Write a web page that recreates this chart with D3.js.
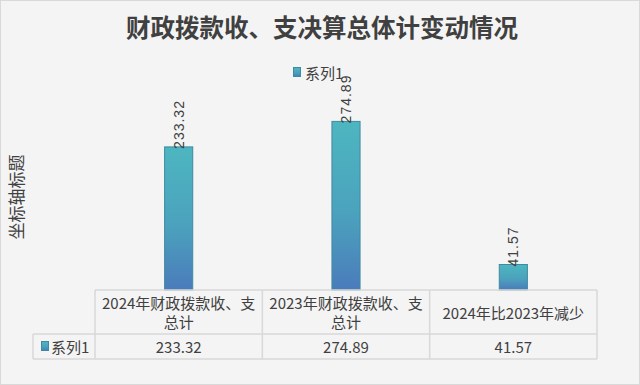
<!DOCTYPE html>
<html><head><meta charset="utf-8">
<script src="https://cdn.jsdelivr.net/npm/d3@7/dist/d3.min.js"></script>
<style>
html,body{margin:0;padding:0;background:#fff;}
svg{display:block;}
text{font-family:"Noto Sans CJK SC","Microsoft YaHei",sans-serif;fill:#404040;}
</style></head>
<body>
<svg id="chart" width="640" height="385"></svg>
<script>
const title = "财政拨款收、支决算总体计变动情况";
const seriesName = "系列1";
const categories = ["2024年财政拨款收、支总计", "2023年财政拨款收、支总计", "2024年比2023年减少"];
const values = [233.32, 274.89, 41.57];
const valueLabels = ["233.32", "274.89", "41.57"];
const yDomain = [0, 300];
const axisTitle = "坐标轴标题";

const W = 640, H = 385;
const svg = d3.select("#chart");
const plot = {left: 95, right: 597, top: 106, bottom: 290};
const tbl = {keyLeft: 33, headerBottom: 334, bottom: 359};

const defs = svg.append("defs");
const grad = defs.append("linearGradient").attr("id","barGrad").attr("x1",0).attr("y1",0).attr("x2",0).attr("y2",1);
grad.append("stop").attr("offset","0%").attr("stop-color","#4db6c0");
grad.append("stop").attr("offset","55%").attr("stop-color","#4ba2bd");
grad.append("stop").attr("offset","100%").attr("stop-color","#4a7bbb");

svg.append("rect").attr("x",0.5).attr("y",0.5).attr("width",W-1).attr("height",H-1)
  .attr("fill","#f4f4f4").attr("stroke","#d9d9d9");

svg.append("text").attr("x",322).attr("y",37).attr("text-anchor","middle")
  .style("font-size","24.5px").style("font-weight","bold").attr("fill","#404040").text(title);

// legend
const lg = svg.append("g");
lg.append("rect").attr("x",293.5).attr("y",67.5).attr("width",7).attr("height",9)
  .attr("fill","url(#barGrad)").attr("stroke","#3f8aa0");
lg.append("text").attr("x",305).attr("y",72).attr("dominant-baseline","central")
  .style("font-size","15px").text(seriesName);

const x = d3.scaleBand().domain(categories).range([plot.left, plot.right]);
const y = d3.scaleLinear().domain(yDomain).range([plot.bottom, plot.top]);
const barW = x.bandwidth()*0.168;

// bars
svg.append("g").selectAll("rect").data(categories).join("rect")
  .attr("x",(d)=>x(d)+x.bandwidth()/2-barW/2)
  .attr("y",(d,i)=>y(values[i]))
  .attr("width",barW)
  .attr("height",(d,i)=>plot.bottom-y(values[i]))
  .attr("fill","url(#barGrad)").attr("stroke","#3f8aa0").attr("stroke-width",1);

// data labels
svg.append("g").selectAll("text").data(categories).join("text")
  .attr("transform",(d,i)=>`translate(${x(d)+x.bandwidth()/2},${y(values[i])+2}) rotate(-90)`)
  .attr("dominant-baseline","central")
  .style("font-size","14px").style("letter-spacing","1px")
  .style("font-family","'Liberation Sans',Arial,sans-serif")
  .text((d,i)=>valueLabels[i]);

// axis title
svg.append("text").attr("transform","translate(15,197) rotate(-90)")
  .attr("text-anchor","middle").attr("dominant-baseline","central")
  .style("font-size","17px").text(axisTitle);

// data table
const lc = "#d9d9d9";
const tg = svg.append("g").attr("stroke",lc).attr("stroke-width",1.5);
tg.append("line").attr("x1",plot.left).attr("x2",plot.right).attr("y1",plot.bottom).attr("y2",plot.bottom);
tg.append("line").attr("x1",tbl.keyLeft).attr("x2",plot.right).attr("y1",tbl.headerBottom).attr("y2",tbl.headerBottom);
tg.append("line").attr("x1",tbl.keyLeft).attr("x2",plot.right).attr("y1",tbl.bottom).attr("y2",tbl.bottom);
tg.append("line").attr("x1",tbl.keyLeft).attr("x2",tbl.keyLeft).attr("y1",tbl.headerBottom).attr("y2",tbl.bottom);
const edges = categories.map(d=>x(d)).concat([plot.right]);
tg.selectAll("line.v").data(edges).join("line").attr("class","v")
  .attr("x1",d=>d).attr("x2",d=>d).attr("y1",plot.bottom).attr("y2",tbl.bottom);

// header labels with wrapping
const hg = svg.append("g");
categories.forEach((c)=>{
  const cx = x(c)+x.bandwidth()/2;
  const t = hg.append("text").attr("text-anchor","middle").style("font-size","15px");
  const maxW = x.bandwidth()-8;
  const chars = Array.from(c);
  let lines = [], cur = "";
  const probe = hg.append("text").style("font-size","15px");
  chars.forEach(ch=>{
    probe.text(cur+ch);
    if (probe.node().getComputedTextLength() > maxW && cur) { lines.push(cur); cur = ch; }
    else cur += ch;
  });
  lines.push(cur);
  probe.remove();
  const lh = 19;
  const midY = (plot.bottom+tbl.headerBottom)/2;
  const y0 = midY - (lines.length-1)*lh/2;
  lines.forEach((l,j)=>{
    t.append("tspan").attr("x",cx).attr("y",y0+j*lh).attr("dominant-baseline","central").text(l);
  });
});

// value row
svg.append("g").selectAll("text").data(categories).join("text")
  .attr("x",d=>x(d)+x.bandwidth()/2).attr("y",(tbl.headerBottom+tbl.bottom)/2)
  .attr("text-anchor","middle").attr("dominant-baseline","central")
  .style("font-size","15px").text((d,i)=>valueLabels[i]);

// legend key in table
svg.append("rect").attr("x",41.5).attr("y",341.5).attr("width",7).attr("height",9)
  .attr("fill","url(#barGrad)").attr("stroke","#3f8aa0");
svg.append("text").attr("x",51).attr("y",(tbl.headerBottom+tbl.bottom)/2)
  .attr("dominant-baseline","central").style("font-size","15px").text(seriesName);
</script>
</body></html>
